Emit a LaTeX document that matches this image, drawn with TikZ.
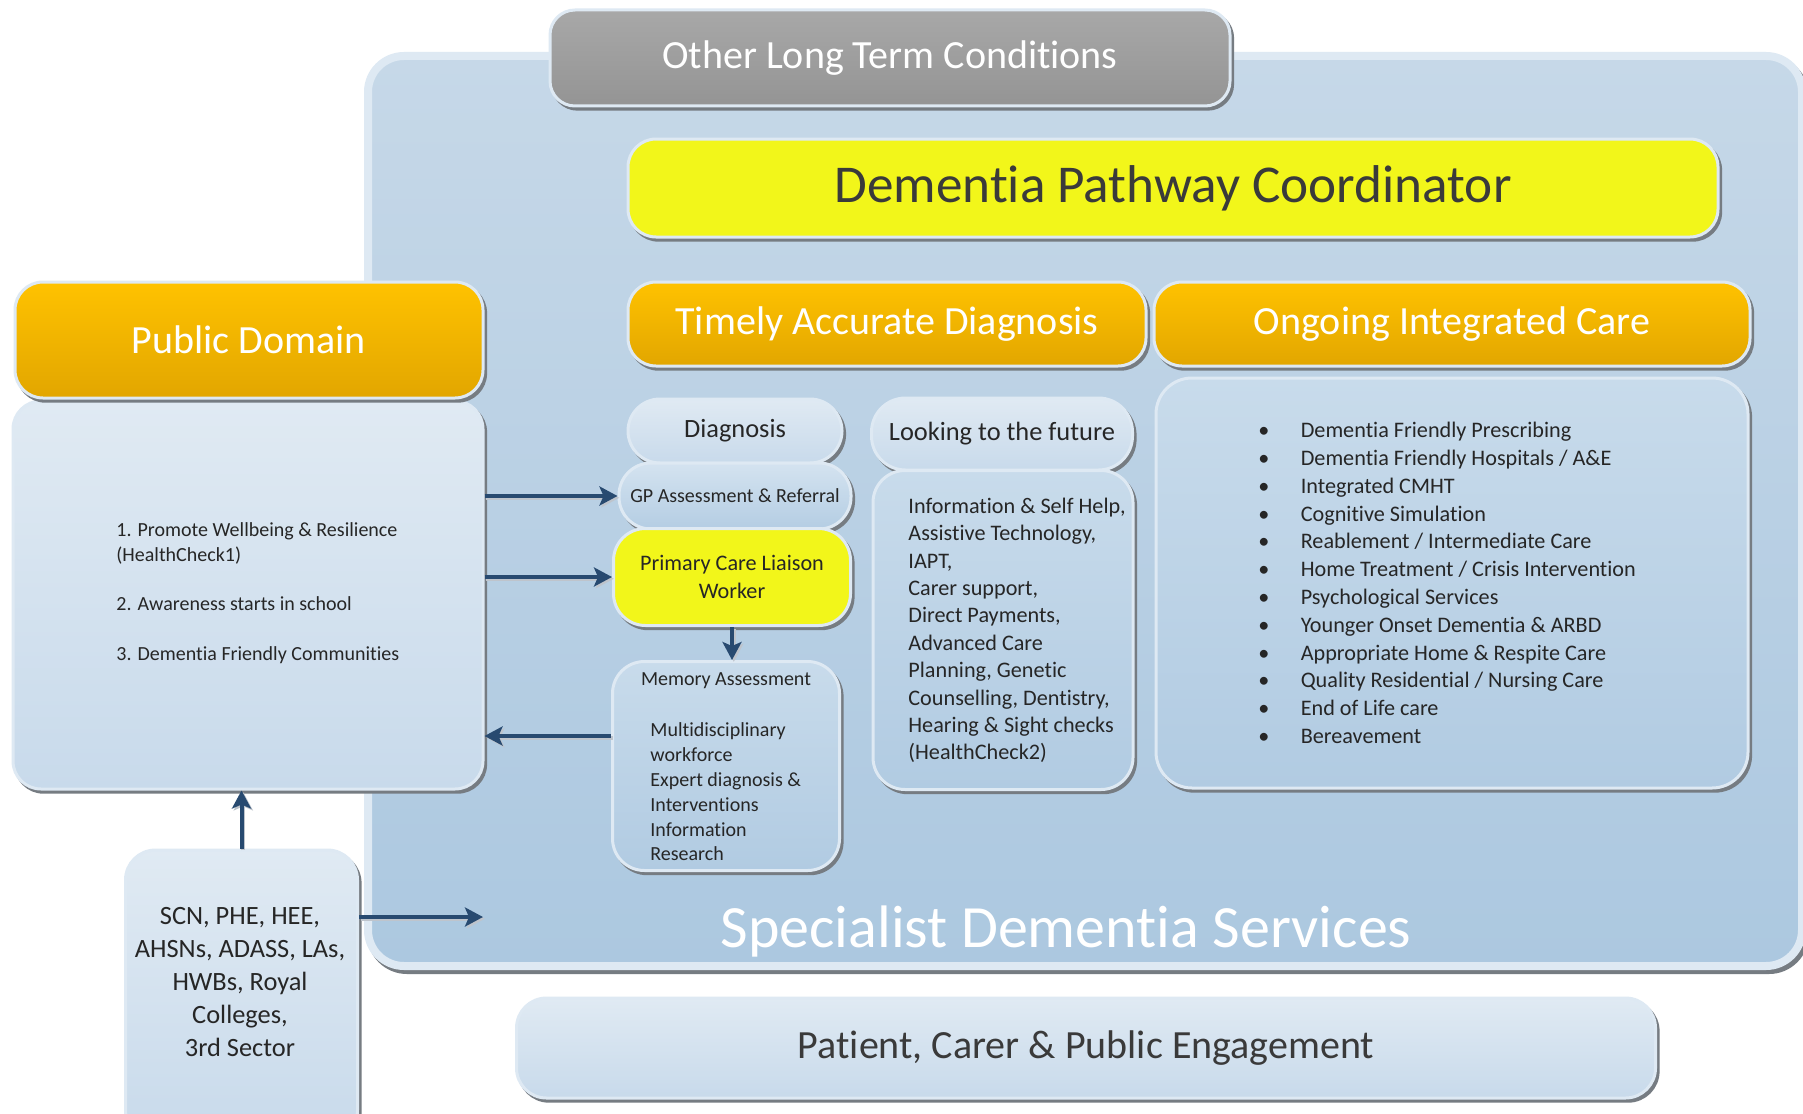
\documentclass[tikz,border=0pt]{standalone}
\usepackage{fontspec}
\setmainfont{Carlito}[Ligatures=NoCommon]
\usetikzlibrary{shadows,arrows.meta}
\definecolor{txtc}{RGB}{38,38,38}
\definecolor{darktxt}{RGB}{58,58,58}
\definecolor{bordc}{RGB}{222,233,243}
\definecolor{shadc}{RGB}{118,124,130}
\definecolor{arrowc}{RGB}{40,74,112}
\definecolor{arrsh}{RGB}{190,196,204}
\definecolor{greyT}{RGB}{168,168,168}
\definecolor{greyB}{RGB}{148,148,148}
\definecolor{orT}{RGB}{255,194,0}
\definecolor{orB}{RGB}{226,166,0}
\definecolor{yel}{RGB}{242,246,26}
\definecolor{bgT}{RGB}{198,216,232}
\definecolor{bgB}{RGB}{172,200,224}
\definecolor{ltT}{RGB}{224,234,243}
\definecolor{ltB}{RGB}{200,218,235}
\definecolor{midT}{RGB}{212,227,240}
\definecolor{midB}{RGB}{180,205,227}
\definecolor{inT}{RGB}{200,219,235}
\definecolor{inB}{RGB}{177,203,226}
\begin{document}
\begin{tikzpicture}[x=0.5pt,y=-0.5pt,
  box/.style={draw=bordc, line width=1.5pt, inner sep=0pt,
    general shadow={fill=shadc, draw=shadc, line width=1.5pt, shadow xshift=1.3pt, shadow yshift=-1.6pt}},
  greybox/.style={box, top color=greyT, bottom color=greyB, rounded corners=12.5pt, text=white, font=\fontsize{20pt}{24pt}\selectfont},
  orbox/.style={box, top color=orT, bottom color=orB, rounded corners=14pt, text=white, font=\fontsize{20pt}{24pt}\selectfont},
  yelbox/.style={box, fill=yel, rounded corners=14pt, text=darktxt},
  ltbox/.style={box, top color=ltT, bottom color=ltB, text=txtc},
  midbox/.style={box, top color=midT, bottom color=midB, text=txtc},
  inbox/.style={box, top color=inT, bottom color=inB, text=txtc},
  lbl/.style={inner sep=0pt, text=txtc},
  arr/.style={draw=arrowc, line width=2pt, -{Stealth[length=9pt,width=9.5pt,inset=2pt]},
    preaction={draw=arrsh, line width=2pt, -{Stealth[length=9pt,width=9.5pt,inset=2pt]}, transform canvas={shift={(0.9pt,-0.9pt)}}}}
]
\useasboundingbox (0,0) rectangle (1803,1113);
\clip (0,0) rectangle (1803,1113);
\fill[white] (0,0) rectangle (1803,1113);

% big background
\node[draw=bordc, line width=4pt, top color=bgT, bottom color=bgB, rounded corners=18pt,
  minimum width=717pt, minimum height=455pt, inner sep=0pt,
  general shadow={fill=shadc, draw=shadc, line width=4pt, shadow xshift=1.5pt, shadow yshift=-2pt}]
  (bg) at (1085,511) {};
\node[text=white, font=\fontsize{30pt}{36pt}\selectfont, inner sep=0pt] (sds) at (1066,931) {Specialist Dementia Services};

% top boxes
\node[greybox, minimum width=340pt, minimum height=48pt] (olt) at (890,58) {Other Long Term Conditions};
\node[yelbox, minimum width=545pt, minimum height=49pt, font=\fontsize{26.6pt}{32pt}\selectfont] (dpc) at (1173,188) {Dementia Pathway Coordinator};
\node[orbox, minimum width=259pt, minimum height=42pt] (tad) at (887,324) {Timely Accurate Diagnosis};
\node[orbox, minimum width=298pt, minimum height=42pt] (oic) at (1452,324) {Ongoing Integrated Care};

% public domain
\node[ltbox, rounded corners=14pt, minimum width=235pt, minimum height=194pt] (pdc) at (248,595) {};
\node[orbox, minimum width=234pt, minimum height=58pt] (pd) at (249,340) {Public Domain};
\node[lbl, anchor=west, align=left, font=\fontsize{10pt}{12.4pt}\selectfont] (pdtxt) at (116,593)
  {1. Promote Wellbeing \& Resilience\\(HealthCheck1)\\[12.4pt]2. Awareness starts in school\\[12.4pt]3. Dementia Friendly Communities};

% diagnosis column
\node[ltbox, rounded corners=16pt, minimum width=107pt, minimum height=32pt, font=\fontsize{13.2pt}{16pt}\selectfont] (diag) at (735,431) {Diagnosis};
\node[midbox, rounded corners=16pt, minimum width=116pt, minimum height=33pt, font=\fontsize{10pt}{12pt}\selectfont] (gp) at (735,496) {GP Assessment \& Referral};
\node[yelbox, rounded corners=16pt, minimum width=118.5pt, minimum height=48.5pt, align=center, text=txtc, font=\fontsize{11.1pt}{13.8pt}\selectfont] (pcl) at (732,577) {Primary Care Liaison\\Worker};
\node[inbox, rounded corners=16pt, minimum width=113.5pt, minimum height=104.5pt] (mem) at (726,766) {};
\node[lbl, font=\fontsize{10pt}{12pt}\selectfont] (memt) at (726,681) {Memory Assessment};
\node[lbl, anchor=west, align=left, font=\fontsize{10pt}{12.4pt}\selectfont] (memtxt) at (650,792)
  {Multidisciplinary\\workforce\\Expert diagnosis \&\\Interventions\\Information\\Research};

% looking to the future
\node[ltbox, rounded corners=17pt, minimum width=130.5pt, minimum height=36pt, font=\fontsize{13.2pt}{16pt}\selectfont] (ltf) at (1002,434) {Looking to the future};
\node[inbox, rounded corners=16pt, minimum width=130pt, minimum height=159.5pt] (ltfc) at (1003,630) {};
\node[lbl, anchor=west, align=left, font=\fontsize{11.1pt}{13.7pt}\selectfont] (ltftxt) at (908,630.5)
  {Information \& Self Help,\\Assistive Technology,\\IAPT,\\Carer support,\\Direct Payments,\\Advanced Care\\Planning, Genetic\\Counselling, Dentistry,\\Hearing \& Sight checks\\(HealthCheck2)};

% ongoing care list
\node[inbox, rounded corners=18pt, minimum width=296pt, minimum height=205pt] (oicc) at (1452,583) {};
\node[lbl, anchor=west, align=left, font=\fontsize{11.1pt}{13.9pt}\selectfont] (oictxt) at (1258,583)
  {\makebox[21.2pt][l]{•}Dementia Friendly Prescribing\\
   \makebox[21.2pt][l]{•}Dementia Friendly Hospitals / A\&E\\
   \makebox[21.2pt][l]{•}Integrated CMHT\\
   \makebox[21.2pt][l]{•}Cognitive Simulation\\
   \makebox[21.2pt][l]{•}Reablement / Intermediate Care\\
   \makebox[21.2pt][l]{•}Home Treatment / Crisis Intervention\\
   \makebox[21.2pt][l]{•}Psychological Services\\
   \makebox[21.2pt][l]{•}Younger Onset Dementia \& ARBD\\
   \makebox[21.2pt][l]{•}Appropriate Home \& Respite Care\\
   \makebox[21.2pt][l]{•}Quality Residential / Nursing Care\\
   \makebox[21.2pt][l]{•}End of Life care\\
   \makebox[21.2pt][l]{•}Bereavement};

% stakeholders
\node[ltbox, rounded corners=15pt, minimum width=116pt, minimum height=145pt] (scn) at (241.5,995) {};
\node[lbl, align=center, font=\fontsize{13.2pt}{16.4pt}\selectfont] (scntxt) at (240,982)
  {SCN, PHE, HEE,\\AHSNs, ADASS, LAs,\\HWBs, Royal\\Colleges,\\3rd Sector};

% engagement
\node[ltbox, rounded corners=15pt, minimum width=569.5pt, minimum height=50pt, text=darktxt, font=\fontsize{20pt}{24pt}\selectfont] (pce) at (1086,1048) {Patient, Carer \& Public Engagement};

% connectors
\coordinate (c1) at (483,917);
\draw[arr] (pdc.east |- gp.west) -- (gp.west);
\draw[arr] (pdc.east |- pcl.west) -- (pcl.west);
\draw[arr] ([yshift=15pt]mem.west) -- ([yshift=15pt]pdc.east |- mem.west);
\draw[arr] (pcl.south) -- (pcl.south |- mem.north);
\draw[arr] (scn.north) -- (scn.north |- pdc.south);
\draw[arr] (scn.east |- c1) -- (c1);
\end{tikzpicture}
\end{document}
